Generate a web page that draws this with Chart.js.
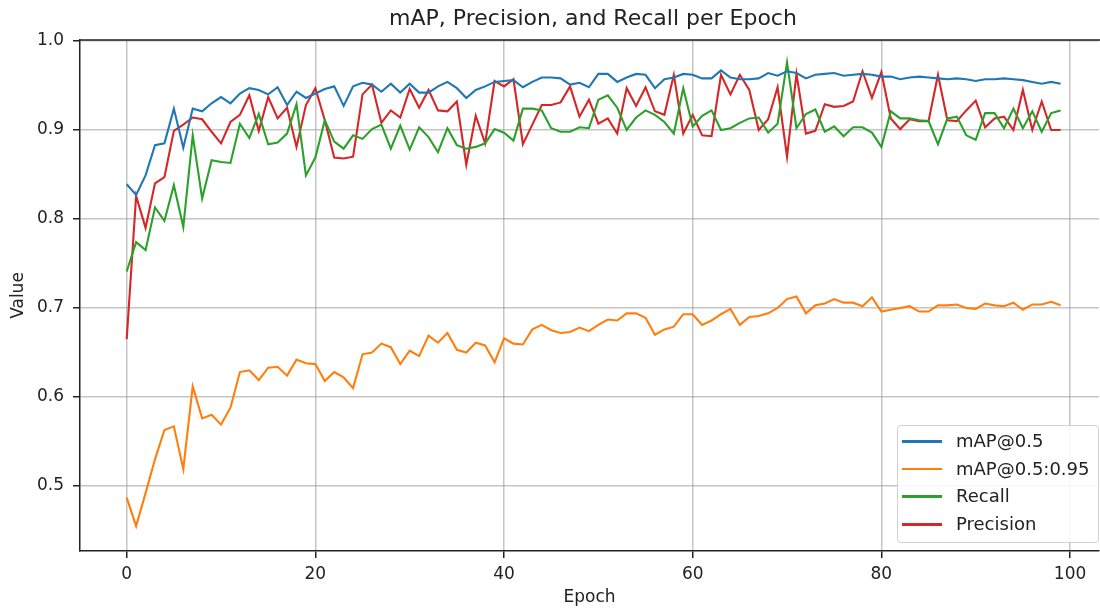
<!DOCTYPE html>
<html>
<head>
<meta charset="utf-8">
<script src="https://cdn.jsdelivr.net/npm/chart.js@4/dist/chart.umd.min.js"></script>
<style>
  html, body { margin: 0; padding: 0; background: #fff; overflow: hidden; }
  #wrap { position: relative; width: 1100px; height: 609px; }
  #title { position: absolute; left: 293px; top: 5px; width: 600px; height: 26px; line-height: 26px;
    text-align: center; font-family: 'DejaVu Sans', sans-serif; font-size: 22px; color: #222; white-space: nowrap; }
  #legend { position: absolute; left: 897px; top: 425px; width: 200px; height: 116px;
    border: 1px solid #d2d2d2; border-radius: 4px; background: rgba(255,255,255,0.85);
    font-family: 'DejaVu Sans', sans-serif; font-size: 18px; color: #222; }
  .row { position: absolute; left: 0; height: 20px; }
  .sw { position: absolute; left: 4px; top: 9px; width: 40px; height: 2.5px; }
  .lbl { position: absolute; left: 58px; top: 0; line-height: 20px; white-space: nowrap; }
</style>
</head>
<body>
<div id="wrap">
  <canvas id="c" width="1100" height="609"></canvas>
  <div id="title"></div>
  <div id="legend"></div>
</div>
<script>
const epochs = [0,1,2,3,4,5,6,7,8,9,10,11,12,13,14,15,16,17,18,19,20,21,22,23,24,25,26,27,28,29,30,31,32,33,34,35,36,37,38,39,40,41,42,43,44,45,46,47,48,49,50,51,52,53,54,55,56,57,58,59,60,61,62,63,64,65,66,67,68,69,70,71,72,73,74,75,76,77,78,79,80,81,82,83,84,85,86,87,88,89,90,91,92,93,94,95,96,97,98,99];

const map50 = [0.839,0.827,0.849,0.883,0.885,0.924,0.880,0.924,0.921,0.930,
  0.937,0.930,0.941,0.947,0.945,0.940,0.948,0.928,0.943,0.936,
  0.941,0.946,0.949,0.927,0.949,0.953,0.951,0.943,0.952,0.942,
  0.952,0.942,0.942,0.949,0.954,0.947,0.936,0.945,0.949,0.954,
  0.955,0.956,0.948,0.954,0.959,0.959,0.958,0.951,0.953,0.948,
  0.963,0.963,0.954,0.959,0.963,0.962,0.947,0.957,0.959,0.963,
  0.962,0.958,0.958,0.967,0.959,0.957,0.957,0.958,0.964,0.961,
  0.966,0.964,0.958,0.962,0.963,0.964,0.961,0.962,0.963,0.962,
  0.960,0.960,0.957,0.959,0.960,0.959,0.958,0.957,0.958,0.957,
  0.955,0.957,0.957,0.958,0.957,0.956,0.954,0.952,0.954,0.952];

const map5095 = [0.487,0.455,0.492,0.530,0.563,0.567,0.519,0.612,0.576,0.580,
  0.569,0.588,0.628,0.630,0.619,0.633,0.634,0.624,0.642,0.638,
  0.637,0.618,0.628,0.622,0.610,0.648,0.650,0.660,0.656,0.637,
  0.652,0.646,0.669,0.661,0.672,0.653,0.650,0.661,0.658,0.639,
  0.666,0.660,0.659,0.676,0.681,0.675,0.672,0.673,0.678,0.674,
  0.681,0.687,0.686,0.694,0.694,0.689,0.670,0.676,0.679,0.693,
  0.693,0.681,0.686,0.693,0.699,0.681,0.690,0.691,0.694,0.700,
  0.710,0.713,0.694,0.703,0.705,0.710,0.706,0.706,0.702,0.712,
  0.696,0.698,0.700,0.702,0.696,0.696,0.703,0.703,0.704,0.700,
  0.699,0.705,0.703,0.702,0.706,0.698,0.704,0.704,0.707,0.703];

const recall = [0.741,0.774,0.765,0.813,0.798,0.838,0.791,0.894,0.823,0.866,
  0.864,0.863,0.907,0.891,0.918,0.884,0.886,0.896,0.929,0.849,
  0.869,0.911,0.887,0.879,0.894,0.890,0.901,0.906,0.879,0.905,
  0.878,0.903,0.892,0.875,0.902,0.883,0.879,0.881,0.885,0.901,
  0.897,0.888,0.924,0.924,0.922,0.902,0.898,0.898,0.903,0.902,
  0.934,0.939,0.925,0.900,0.914,0.922,0.917,0.909,0.896,0.947,
  0.904,0.916,0.922,0.900,0.902,0.908,0.913,0.914,0.897,0.907,
  0.976,0.902,0.918,0.923,0.898,0.904,0.893,0.903,0.903,0.897,
  0.881,0.921,0.913,0.913,0.911,0.910,0.884,0.913,0.915,0.894,
  0.889,0.919,0.919,0.902,0.924,0.902,0.921,0.898,0.919,0.922];

const precision = [0.665,0.826,0.790,0.840,0.847,0.899,0.906,0.914,0.912,0.898,
  0.885,0.909,0.917,0.939,0.899,0.937,0.913,0.925,0.881,0.928,
  0.947,0.911,0.869,0.868,0.870,0.940,0.951,0.908,0.922,0.914,
  0.946,0.925,0.945,0.922,0.921,0.932,0.861,0.916,0.885,0.955,
  0.949,0.957,0.884,0.906,0.928,0.928,0.931,0.949,0.915,0.934,
  0.907,0.913,0.896,0.947,0.927,0.948,0.921,0.917,0.962,0.896,
  0.917,0.894,0.893,0.962,0.940,0.962,0.945,0.900,0.912,0.948,
  0.870,0.963,0.896,0.899,0.929,0.926,0.927,0.932,0.966,0.936,
  0.965,0.913,0.901,0.912,0.910,0.910,0.962,0.911,0.910,0.922,
  0.933,0.903,0.913,0.915,0.900,0.945,0.900,0.932,0.900,0.900];

const seriesNames = ['mAP@0.5', 'mAP@0.5:0.95', 'Recall', 'Precision'];
const seriesColors = ['#1f77b4', '#ff7f0e', '#2ca02c', '#d62728'];
const xTicks = [0, 20, 40, 60, 80, 100];
const yTicks = [0.5, 0.6, 0.7, 0.8, 0.9, 1.0];
const titleText = 'mAP, Precision, and Recall per Epoch';
const xTitle = 'Epoch';
const yTitle = 'Value';

const allSeries = [map50, map5095, recall, precision];
const FONT = "'DejaVu Sans', sans-serif";
const TXT = '#222';
const GRID = 'rgba(150,150,150,0.55)';

document.getElementById('title').textContent = titleText;

const datasets = allSeries.map((vals, i) => ({
  label: seriesNames[i],
  data: vals.map((v, k) => ({ x: epochs[k], y: v })),
  borderColor: seriesColors[i],
  backgroundColor: seriesColors[i],
  borderWidth: 2.1,
  pointRadius: 0,
  tension: 0,
  fill: false
}));

const topSpine = {
  id: 'topSpine',
  afterDatasetsDraw(chart) {
    const { ctx, chartArea } = chart;
    ctx.save();
    ctx.strokeStyle = TXT;
    ctx.lineWidth = 1.5;
    ctx.beginPath();
    ctx.moveTo(chartArea.left, chartArea.top);
    ctx.lineTo(chartArea.right + 2, chartArea.top);
    ctx.stroke();
    ctx.restore();
  }
};

const chart = new Chart(document.getElementById('c'), {
  type: 'line',
  data: { datasets },
  options: {
    responsive: false,
    animation: false,
    events: [],
    layout: { padding: { left: 0, right: 1, top: 40, bottom: 0 } },
    plugins: {
      legend: { display: false },
      tooltip: { enabled: false },
      title: { display: false }
    },
    scales: {
      x: {
        type: 'linear',
        min: -4.95,
        max: 103.07,
        afterFit(scale) { scale.height = 58; },
        afterBuildTicks(scale) { scale.ticks = xTicks.map(v => ({ value: v })); },
        ticks: { color: TXT, font: { family: FONT, size: 17 }, padding: 6, maxRotation: 0,
          callback: v => String(v) },
        grid: { color: GRID, lineWidth: 1.5, tickColor: TXT, tickLength: 7, tickWidth: 1.5 },
        border: { color: TXT, width: 1.5 },
        title: { display: true, text: xTitle, color: TXT, font: { family: FONT, size: 17, lineHeight: 1.2 },
          padding: { top: 0, bottom: 0.8 } }
      },
      y: {
        type: 'linear',
        min: 0.427,
        max: 1.0011,
        afterFit(scale) { scale.width = 80; },
        afterBuildTicks(scale) { scale.ticks = yTicks.map(v => ({ value: v })); },
        ticks: { color: TXT, font: { family: FONT, size: 17 }, padding: 9,
          callback: v => Number(v).toFixed(1) },
        grid: { color: GRID, lineWidth: 1.5, tickColor: TXT, tickLength: 7, tickWidth: 1.5 },
        border: { color: TXT, width: 1.5 },
        title: { display: true, text: yTitle, color: TXT, font: { family: FONT, size: 17, lineHeight: 1.2 },
          padding: { top: 8, bottom: 0 } }
      }
    }
  },
  plugins: [topSpine]
});

// HTML legend built from the chart's datasets
const legend = document.getElementById('legend');
chart.data.datasets.forEach((ds, i) => {
  const row = document.createElement('div');
  row.className = 'row';
  row.style.top = (5 + i * 27.7) + 'px';
  row.style.width = '100%';
  const sw = document.createElement('div');
  sw.className = 'sw';
  sw.style.background = ds.borderColor;
  const lbl = document.createElement('div');
  lbl.className = 'lbl';
  lbl.textContent = ds.label;
  row.appendChild(sw);
  row.appendChild(lbl);
  legend.appendChild(row);
});
</script>
</body>
</html>
